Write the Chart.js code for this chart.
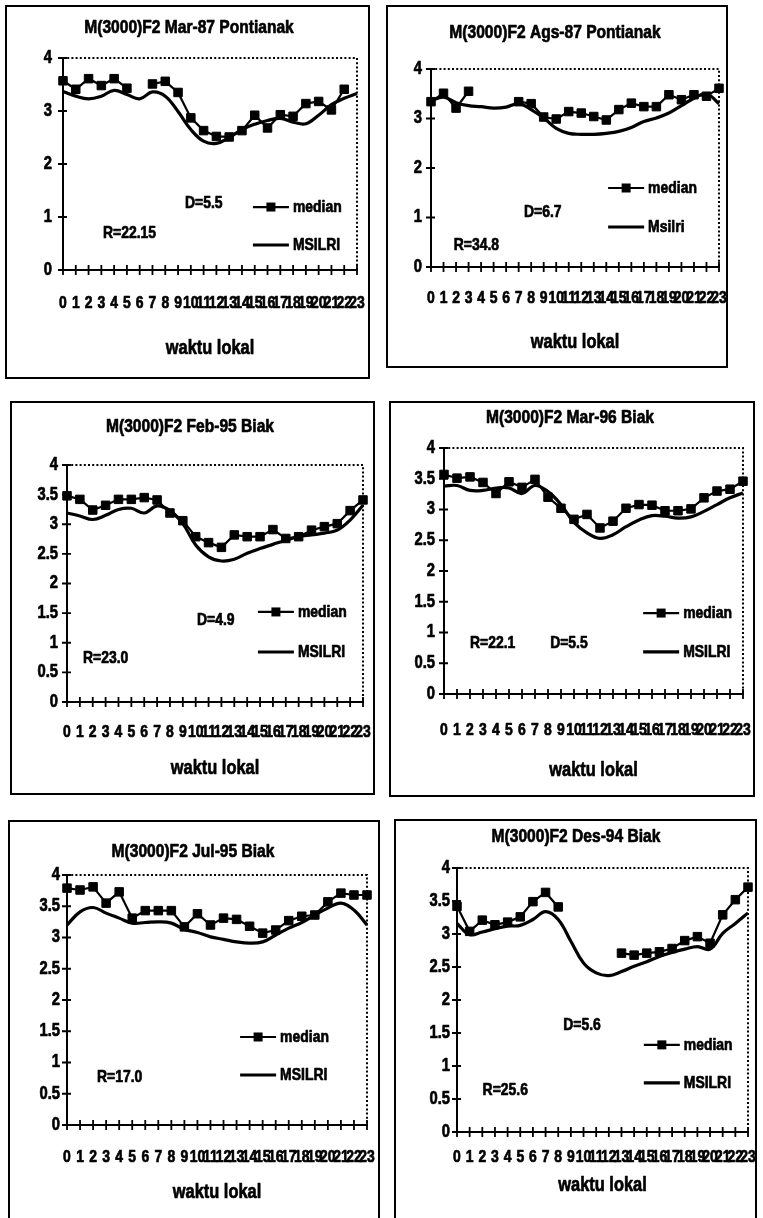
<!DOCTYPE html>
<html>
<head>
<meta charset="utf-8">
<title>M(3000)F2 median vs MSILRI</title>
<script src="https://cdn.jsdelivr.net/npm/chart.js@4.4.1/dist/chart.umd.min.js"></script>
<style>
  html, body { margin: 0; padding: 0; background: #fff; width: 763px; height: 1218px; overflow: hidden; }
  .panel { position: absolute; box-sizing: border-box; border: 2px solid #000; background: #fff; }
  .panel canvas { position: absolute; left: 0; top: 0; }
</style>
</head>
<body>
<script>
// ---- data -------------------------------------------------------------
const hours = ['0', '1', '2', '3', '4', '5', '6', '7', '8', '9', '10', '11',
               '12', '13', '14', '15', '16', '17', '18', '19', '20', '21', '22', '23'];

const medianMar87Pontianak = [3.57, 3.41, 3.61, 3.48, 3.61, 3.43, null, 3.51, 3.56, 3.35, 2.87, 2.63,
                              2.52, 2.51, 2.63, 2.92, 2.68, 2.93, 2.90, 3.14, 3.18, 3.02, 3.41, null];
const msilriMar87Pontianak = [3.37, 3.28, 3.23, 3.28, 3.39, 3.31, 3.23, 3.36, 3.28, 2.99, 2.65, 2.43,
                              2.39, 2.50, 2.65, 2.75, 2.82, 2.86, 2.79, 2.76, 2.92, 3.12, 3.24, 3.33];

const medianAgs87Pontianak = [3.34, 3.51, 3.21, 3.55, null, null, null, 3.34, 3.30, 3.03, 2.99, 3.14,
                              3.11, 3.04, 2.97, 3.18, 3.31, 3.24, 3.24, 3.48, 3.38, 3.48, 3.45, 3.61];
const msilriAgs87Pontianak = [3.36, 3.43, 3.32, 3.26, 3.24, 3.21, 3.23, 3.30, 3.18, 3.01, 2.80, 2.70,
                              2.68, 2.68, 2.70, 2.74, 2.82, 2.94, 3.01, 3.11, 3.26, 3.41, 3.50, 3.30];

const medianFeb95Biak = [3.48, 3.42, 3.24, 3.32, 3.42, 3.42, 3.45, 3.41, 3.19, 3.06, 2.79, 2.69,
                         2.61, 2.82, 2.79, 2.79, 2.91, 2.76, 2.79, 2.90, 2.96, 3.01, 3.23, 3.41];
const msilriFeb95Biak = [3.19, 3.14, 3.08, 3.15, 3.25, 3.27, 3.19, 3.31, 3.23, 3.01, 2.65, 2.45,
                         2.38, 2.41, 2.51, 2.59, 2.66, 2.73, 2.79, 2.82, 2.85, 2.90, 3.07, 3.32];

const medianMar96Biak = [3.57, 3.51, 3.53, 3.44, 3.26, 3.45, 3.36, 3.49, 3.20, 3.02, 2.84, 2.92,
                         2.70, 2.81, 3.02, 3.08, 3.07, 2.98, 2.98, 3.01, 3.19, 3.30, 3.33, 3.46];
const msilriMar96Biak = [3.38, 3.39, 3.31, 3.31, 3.35, 3.35, 3.26, 3.39, 3.29, 3.08, 2.79, 2.62,
                         2.53, 2.59, 2.72, 2.83, 2.90, 2.89, 2.86, 2.88, 2.97, 3.08, 3.19, 3.27];

const medianJul95Biak = [3.79, 3.76, 3.81, 3.55, 3.73, 3.31, 3.43, 3.43, 3.43, 3.17, 3.38, 3.20,
                         3.31, 3.29, 3.18, 3.07, 3.12, 3.27, 3.34, 3.36, 3.57, 3.71, 3.68, 3.68];
const msilriJul95Biak = [3.20, 3.41, 3.48, 3.39, 3.31, 3.23, 3.24, 3.25, 3.23, 3.13, 3.08, 3.01,
                         2.97, 2.93, 2.91, 2.93, 3.04, 3.15, 3.24, 3.36, 3.47, 3.55, 3.44, 3.20];

const medianDes94Biak = [3.42, 3.04, 3.21, 3.14, 3.18, 3.26, 3.49, 3.63, 3.41, null, null, null,
                         null, 2.71, 2.68, 2.71, 2.73, 2.78, 2.90, 2.96, 2.86, 3.29, 3.52, 3.71];
const msilriDes94Biak = [3.16, 2.99, 3.03, 3.08, 3.12, 3.13, 3.22, 3.34, 3.22, 2.89, 2.56, 2.41,
                         2.37, 2.43, 2.51, 2.58, 2.66, 2.72, 2.77, 2.81, 2.77, 3.01, 3.16, 3.32];

const titles = ['M(3000)F2 Mar-87 Pontianak', 'M(3000)F2 Ags-87 Pontianak', 'M(3000)F2 Feb-95 Biak',
                'M(3000)F2 Mar-96 Biak', 'M(3000)F2 Jul-95 Biak', 'M(3000)F2 Des-94 Biak'];
const modelNames = ['MSILRI', 'Msilri', 'MSILRI', 'MSILRI', 'MSILRI', 'MSILRI'];
const notesMar87 = ['D=5.5', 'R=22.15'];
const notesAgs87 = ['D=6.7', 'R=34.8'];
const notesFeb95 = ['D=4.9', 'R=23.0'];
const notesMar96 = ['R=22.1', 'D=5.5'];
const notesJul95 = ['R=17.0'];
const notesDes94 = ['D=5.6', 'R=25.6'];

// ---- layout -----------------------------------------------------------
// Arial-metric bold face, drawn at 82% width to get a narrow bold look
const FONT = "'Liberation Sans', Arial, sans-serif";
const NARROW = 0.82;
const TEXT_WEIGHT_STROKE = 0.7;
const TITLE_SIZE = 19, XTICK_SIZE = 17, YTICK_SIZE = 18, AXIS_TITLE_SIZE = 20, LEGEND_SIZE = 17, NOTE_SIZE = 17;

const panels = [
  { title: titles[0], median: medianMar87Pontianak, model: msilriMar87Pontianak, modelName: modelNames[0],
    notes: notesMar87, notePos: [[0.415, 0.684], [0.136, 0.825]], step: 1,
    box: [5, 5, 370, 379], plot: [63, 58, 357, 270], titleX: 189, titleY: 28, labelY: 303, axisTitleY: 348,
    yPad: 11, legend: [0.646, 0.703, 0.882] },
  { title: titles[1], median: medianAgs87Pontianak, model: msilriAgs87Pontianak, modelName: modelNames[1],
    notes: notesAgs87, notePos: [[0.323, 0.722], [0.079, 0.889]], step: 1,
    box: [386, 5, 728, 368], plot: [431, 69, 722, 267], titleX: 552, titleY: 33, labelY: 298, axisTitleY: 342,
    yPad: 9, legend: [0.615, 0.601, 0.798] },
  { title: titles[2], median: medianFeb95Biak, model: msilriFeb95Biak, modelName: modelNames[2],
    notes: notesFeb95, notePos: [[0.439, 0.654], [0.054, 0.814]], step: 0.5,
    box: [10, 401, 375, 795], plot: [67, 465, 363, 702], titleX: 190, titleY: 427, labelY: 732, axisTitleY: 768,
    yPad: 9, legend: [0.645, 0.620, 0.789] },
  { title: titles[3], median: medianMar96Biak, model: msilriMar96Biak, modelName: modelNames[3],
    notes: notesMar96, notePos: [[0.087, 0.793], [0.355, 0.793]], step: 0.5,
    box: [389, 401, 755, 797], plot: [444, 448, 743, 694], titleX: 570, titleY: 418, labelY: 730, axisTitleY: 770,
    yPad: 9, legend: [0.666, 0.671, 0.829] },
  { title: titles[4], median: medianJul95Biak, model: msilriJul95Biak, modelName: modelNames[4],
    notes: notesJul95, notePos: [[0.100, 0.808]], step: 0.5,
    box: [8, 820, 380, 1222], plot: [67, 875, 367, 1125], titleX: 193, titleY: 852, labelY: 1157, axisTitleY: 1192,
    yPad: 7, legend: [0.577, 0.648, 0.800] },
  { title: titles[5], median: medianDes94Biak, model: msilriDes94Biak, modelName: modelNames[5],
    notes: notesDes94, notePos: [[0.365, 0.595], [0.088, 0.841]], step: 0.5,
    box: [394, 819, 757, 1222], plot: [457, 868, 753, 1132], titleX: 576, titleY: 837, labelY: 1157, axisTitleY: 1185,
    yPad: 7, legend: [0.642, 0.670, 0.814] }
];

// Squeeze every text run horizontally around its anchor point (and report
// the squeezed width to the layout), so labels read as a narrow heavy face.
function narrowText(ctx, k, heavy) {
  const fill = ctx.fillText.bind(ctx);
  const stroke = ctx.strokeText.bind(ctx);
  const measure = ctx.measureText.bind(ctx);
  ctx.fillText = function (s, x, y) {
    ctx.save();
    ctx.translate(x, y);
    ctx.scale(k, 1);
    fill(s, 0, 0);
    ctx.strokeStyle = ctx.fillStyle;
    ctx.lineWidth = heavy;
    ctx.lineJoin = 'round';
    ctx.setLineDash([]);
    stroke(s, 0, 0);
    ctx.restore();
  };
  ctx.measureText = function (s) {
    const m = measure(s);
    return {
      width: m.width * k,
      actualBoundingBoxAscent: m.actualBoundingBoxAscent,
      actualBoundingBoxDescent: m.actualBoundingBoxDescent,
      actualBoundingBoxLeft: m.actualBoundingBoxLeft * k,
      actualBoundingBoxRight: m.actualBoundingBoxRight * k
    };
  };
}

// Cross-shaped tick marks, dotted top/right frame, in-plot legend and D/R notes
const decorPlugin = {
  id: 'decor',
  beforeDatasetsDraw(chart) {
    const { ctx, chartArea: a, scales: { x, y } } = chart;
    ctx.save();
    ctx.strokeStyle = '#000';
    ctx.lineWidth = 2;
    ctx.setLineDash([2, 2.2]);
    ctx.beginPath();
    ctx.moveTo(a.left, a.top);
    ctx.lineTo(a.right, a.top);
    ctx.lineTo(a.right, a.bottom);
    ctx.stroke();
    ctx.setLineDash([]);
    ctx.lineWidth = 1.8;
    ctx.beginPath();
    x.ticks.forEach((t, i) => {
      const px = x.getPixelForTick(i);
      ctx.moveTo(px, a.bottom - 5);
      ctx.lineTo(px, a.bottom + 5);
    });
    y.ticks.forEach(t => {
      const py = y.getPixelForValue(t.value);
      ctx.moveTo(a.left - 5, py);
      ctx.lineTo(a.left + 4, py);
    });
    ctx.stroke();
    ctx.restore();
  },
  afterDraw(chart, args, opts) {
    const { ctx, chartArea: a } = chart;
    const p = opts.panel;
    const w = a.right - a.left, h = a.bottom - a.top;
    ctx.save();
    ctx.fillStyle = '#000';
    ctx.strokeStyle = '#000';
    ctx.textBaseline = 'middle';
    ctx.textAlign = 'left';
    // legend
    const lx = a.left + p.legend[0] * w;
    const ly1 = a.top + p.legend[1] * h;
    const ly2 = a.top + p.legend[2] * h;
    ctx.lineWidth = 2.2;
    ctx.beginPath();
    ctx.moveTo(lx, ly1);
    ctx.lineTo(lx + 36, ly1);
    ctx.stroke();
    ctx.fillRect(lx + 18 - 4.5, ly1 - 4.5, 9, 9);
    ctx.lineWidth = 3.2;
    ctx.beginPath();
    ctx.moveTo(lx, ly2);
    ctx.lineTo(lx + 36, ly2);
    ctx.stroke();
    ctx.font = 'bold ' + LEGEND_SIZE + 'px ' + FONT;
    ctx.fillText('median', lx + 40, ly1);
    ctx.fillText(p.modelName, lx + 40, ly2);
    // notes
    ctx.font = 'bold ' + NOTE_SIZE + 'px ' + FONT;
    p.notes.forEach((txt, i) => {
      const pos = p.notePos[i];
      ctx.fillText(txt, a.left + pos[0] * w, a.top + pos[1] * h);
    });
    ctx.restore();
  }
};

panels.forEach(p => {
  const [l, t, r, b] = p.box;
  const [x0, yTop, xR, yBot] = p.plot;
  const div = document.createElement('div');
  div.className = 'panel';
  div.style.left = l + 'px';
  div.style.top = t + 'px';
  div.style.width = (r - l) + 'px';
  div.style.height = (b - t) + 'px';
  document.body.appendChild(div);
  const canvas = document.createElement('canvas');
  const ox = l + 2, oy = t + 2, cw = r - l - 4, ch = b - t - 4;
  canvas.width = cw; canvas.height = ch;
  canvas.style.width = cw + 'px'; canvas.style.height = ch + 'px';
  div.appendChild(canvas);
  const ctx = canvas.getContext('2d');
  narrowText(ctx, NARROW, TEXT_WEIGHT_STROKE);

  const padR = cw - (xR - ox);
  const padL = Math.max(0, Math.min(2 * (p.titleX - ox) - cw + padR, x0 - ox - 30));
  const yWidth = x0 - ox - padL;
  const titleTop = (p.titleY - oy) - 0.6 * TITLE_SIZE;
  const titleBottom = (yTop - oy) - 1.2 * TITLE_SIZE - titleTop;
  const xHeight = ch - (yBot - oy);
  const xTickPad = (p.labelY - yBot) - 0.6 * XTICK_SIZE;
  const xTitleBottom = (oy + ch) - p.axisTitleY - 0.6 * AXIS_TITLE_SIZE;

  new Chart(ctx, {
    type: 'line',
    data: {
      labels: hours,
      datasets: [
        { label: 'median', data: p.median, borderColor: '#000', borderWidth: 2.2, tension: 0,
          pointStyle: 'rect', pointRadius: 6, pointBorderWidth: 1, pointBackgroundColor: '#000',
          pointBorderColor: '#000', spanGaps: false, clip: false },
        { label: p.modelName, data: p.model, borderColor: '#000', borderWidth: 3.2, tension: 0.4,
          pointRadius: 0, clip: false }
      ]
    },
    options: {
      responsive: false,
      animation: false,
      events: [],
      layout: { padding: { left: padL, right: padR, top: 0, bottom: 0 } },
      plugins: {
        legend: { display: false },
        tooltip: { enabled: false },
        title: { display: true, text: p.title, color: '#000',
                 font: { family: FONT, size: TITLE_SIZE, weight: 'bold' },
                 padding: { top: titleTop, bottom: titleBottom } },
        decor: { panel: p }
      },
      scales: {
        x: {
          type: 'category', offset: false,
          grid: { display: false, drawTicks: false },
          border: { display: true, color: '#000', width: 2 },
          ticks: { autoSkip: false, maxRotation: 0, minRotation: 0, color: '#000', padding: xTickPad,
                   font: { family: FONT, size: XTICK_SIZE, weight: 'bold' } },
          title: { display: true, text: 'waktu lokal', color: '#000',
                   font: { family: FONT, size: AXIS_TITLE_SIZE, weight: 'bold' },
                   padding: { top: 0, bottom: xTitleBottom } },
          afterFit(s) { s.height = xHeight; s.paddingLeft = 0; s.paddingRight = 0; }
        },
        y: {
          min: 0, max: 4,
          grid: { display: false, drawTicks: false },
          border: { display: true, color: '#000', width: 2 },
          ticks: { stepSize: p.step, color: '#000', padding: p.yPad,
                   font: { family: FONT, size: YTICK_SIZE, weight: 'bold' },
                   callback: v => String(v) },
          afterFit(s) { s.width = yWidth; s.paddingTop = 0; s.paddingBottom = 0; }
        }
      }
    },
    plugins: [decorPlugin]
  });
});
</script>
</body>
</html>
